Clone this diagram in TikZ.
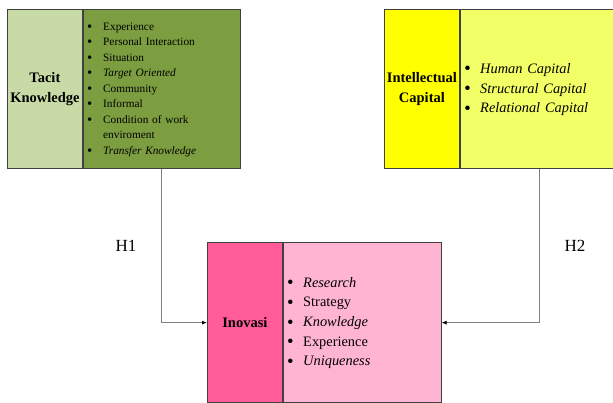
\documentclass[tikz,border=0pt]{standalone}
\usepackage{fontspec}
\setmainfont{Liberation Serif}
\usetikzlibrary{arrows.meta,positioning}
\usepackage{xcolor}

\definecolor{tacithead}{RGB}{200,218,166}
\definecolor{tacitbody}{RGB}{124,158,64}
\definecolor{capitalhead}{RGB}{255,255,0}
\definecolor{capitalbody}{RGB}{242,255,102}
\definecolor{inovasihead}{RGB}{255,92,153}
\definecolor{inovasibody}{RGB}{255,180,210}

\newcommand{\pointlist}[1]{\begin{tabular}{@{}p{16pt}@{}l@{}}#1\end{tabular}}
\newcommand{\pt}{\raisebox{-0.22ex}{\scalebox{1.3}{\textbullet}}}

\begin{document}
\begin{tikzpicture}[
  x=1pt, y=-1pt,
  cell/.style={draw=black!75, line width=0.8pt, inner sep=0pt, anchor=north west,
               minimum height=159.5pt},
  head/.style={cell, text width=75pt, align=center,
               font=\fontsize{14.5}{20}\selectfont\bfseries},
  listbox/.style={cell, inner xsep=4pt, align=left},
  arr/.style={-{Latex[length=5pt,width=4pt,color=black]}, draw=gray, line width=0.8pt}
]
\useasboundingbox (0,0) rectangle (613,403);

% Tacit Knowledge
\node[head, fill=tacithead] (tacit) at (7,9) {Tacit\\Knowledge};
\node[listbox, fill=tacitbody, text width=149pt,
      font=\fontsize{11.3}{15.5}\selectfont] (tacitlist) at (tacit.north east) {\pointlist{
  \pt & Experience\\
  \pt & Personal Interaction\\
  \pt & Situation\\
  \pt & \textit{Target Oriented}\\
  \pt & Community\\
  \pt & Informal\\
  \pt & Condition of work\\
      & enviroment\\
  \pt & \textit{Transfer Knowledge}}};

% Intellectual Capital
\node[head, fill=capitalhead] (capital) at (384,9) {Intellectual\\Capital};
\node[listbox, fill=capitalbody, text width=150pt,
      font=\fontsize{14.4}{19.6}\selectfont\itshape] (capitallist) at (capital.north east) {\pointlist{
  \pt & Human Capital\\
  \pt & Structural Capital\\
  \pt & Relational Capital}};

% Inovasi
\node[head, fill=inovasihead] (inovasi) at (207,242.5) {Inovasi};
\node[listbox, fill=inovasibody, text width=150pt,
      font=\fontsize{14.4}{19.6}\selectfont] (inovasilist) at (inovasi.north east) {\pointlist{
  \pt & \textit{Research}\\
  \pt & Strategy\\
  \pt & \textit{Knowledge}\\
  \pt & Experience\\
  \pt & \textit{Uniqueness}}};

% hypotheses
\draw[arr] (tacitlist.south) |- node[pos=0.25, left=25pt, inner sep=0pt,
  font=\fontsize{17}{20}\selectfont] (h1) {H1} (inovasi.west);
\draw[arr] (capitallist.south) |- node[pos=0.25, right=25pt, inner sep=0pt,
  font=\fontsize{17}{20}\selectfont] (h2) {H2} (inovasilist.east);
\end{tikzpicture}
\end{document}
